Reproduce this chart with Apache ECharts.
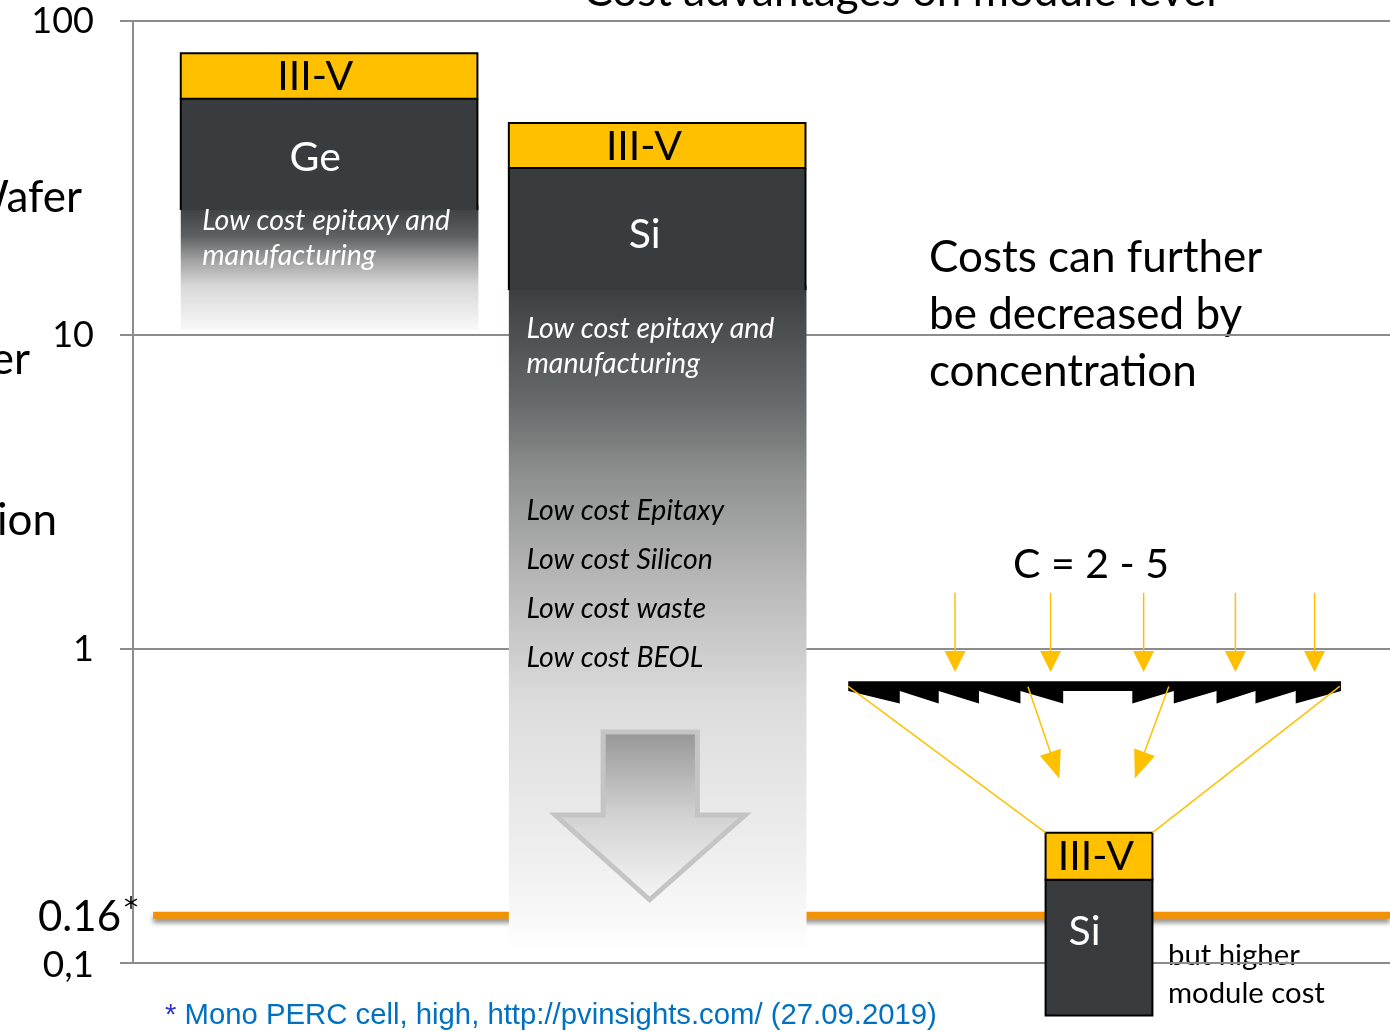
<!DOCTYPE html>
<html>
<head>
<meta charset="utf-8">
<script src="https://cdn.jsdelivr.net/npm/echarts@6/dist/echarts.min.js"></script>
<style>
  html, body { margin: 0; padding: 0; background: #fff; }
  #chart { width: 1390px; height: 1031px; }
</style>
</head>
<body>
<div id="chart"></div>
<script>
// stacks: III-V on Ge wafer, III-V on Si wafer, III-V on Si under concentration
const stackNames = ['Ge', 'Si', 'Si'];
const barLeft = [3.8, 29.9, 72.6];
const barRight = [27.4, 53.5, 81.1];
const iiiVTop = [79, 47.3, 0.26];
const iiiVBottom = [56.5, 34, 0.184];
const substrateBottom = [25, 13.9, 0.068];
const fadeBottom = [10.4, 0.114, null];
const iiiVLabelX = [14.5, 40.65, 76.6];
const substrateLabelX = [14.5, 40.7, 75.7];
const substrateLabelY = [36.6, 20.8, 0.1256];

// notes written into the fading part of the bars
const whiteNotes = [['Low cost epitaxy and', 'manufacturing'], ['Low cost epitaxy and', 'manufacturing']];
const whiteNoteX = [5.5, 31.3];
const whiteNoteY = [23.1, 10.5];
const blackNotes = ['Low cost Epitaxy', 'Low cost Silicon', 'Low cost waste', 'Low cost BEOL'];
const blackNoteX = 31.3;
const blackNoteY = 2.75;

// big grey arrow inside the Si bar
const downArrowX = [33.6, 37.4, 41.1, 44.9, 48.7]; // head left, shaft left, tip, shaft right, head right
const downArrowY = [0.544, 0.296, 0.159];           // shaft top, neck, tip

// reference level of mono PERC cell price
const pvPrice = 0.142;
const pvLabel = '0.16';
const pvLineStart = 1.6;

// fresnel lens and light rays
const lensX = [56.9, 96.1];
const lensY = [0.79, 0.735, 0.67]; // top, base, tooth tip
const teethLeft = [56.9, 61.0, 64.1, 67.3, 70.6, 74.0];
const teethRight = [79.5, 82.8, 86.2, 89.3, 92.5, 96.1];
const rayX = [65.4, 73.0, 80.4, 87.7, 94.0];
const rayY = [1.51, 0.845];
const focusFrom = [[71.2, 0.758], [82.4, 0.76]];
const focusTo = [[73.7, 0.386], [79.7, 0.387]];
const funnelFrom = [[56.9, 0.76], [96.0, 0.76]];

const yTicks = [0.1, 1, 10, 100];

const YELLOW = '#ffc000';
const DARK = '#383c3e';
const FONT = 'Lato';

const fadeStops = [
  [[0, '#3a3e40'], [0.25, '#5e6061'], [0.45, '#a3a3a3'], [0.65, '#d8d8d8'], [1, '#f8f8f8']],
  [[0, '#3a3e40'], [0.18, '#686a6b'], [0.29, '#8f9090'], [0.45, '#b8b8b8'], [0.63, '#dcdcdc'], [0.87, '#efefef'], [1, '#fdfdfd']]
];

function grad(stops) {
  return new echarts.graphic.LinearGradient(0, 0, 0, 1, stops.map(s => ({ offset: s[0], color: s[1] })));
}

function renderBar(params, api) {
  const i = params.dataIndex;
  const tl = api.coord([barLeft[i], iiiVTop[i]]);
  const mid = api.coord([barRight[i], iiiVBottom[i]]);
  const bot = api.coord([barRight[i], substrateBottom[i]]);
  const x = tl[0], w = mid[0] - tl[0];
  const kids = [];
  if (fadeBottom[i] != null) {
    const fb = api.coord([barRight[i], fadeBottom[i]]);
    kids.push({ type: 'rect', shape: { x: x, y: bot[1] - 5, width: w + 1, height: fb[1] - bot[1] + 5 },
      style: { fill: grad(fadeStops[i]) } });
    kids.push({ type: 'rect', shape: { x: x, y: mid[1], width: w, height: bot[1] - mid[1] }, style: { fill: DARK } });
    kids.push({ type: 'polyline', shape: { points: [[x, bot[1]], [x, mid[1]]] }, style: { stroke: '#000', lineWidth: 2 } });
    kids.push({ type: 'polyline', shape: { points: [[x + w, bot[1]], [x + w, mid[1]]] }, style: { stroke: '#000', lineWidth: 2 } });
  } else {
    kids.push({ type: 'rect', shape: { x: x, y: mid[1], width: w, height: bot[1] - mid[1] },
      style: { fill: DARK, stroke: '#000', lineWidth: 2 } });
  }
  kids.push({ type: 'rect', shape: { x: x, y: tl[1], width: w, height: mid[1] - tl[1] },
    style: { fill: YELLOW, stroke: '#000', lineWidth: 2 } });
  const tx = api.coord([iiiVLabelX[i], iiiVTop[i]])[0];
  kids.push({ type: 'text', x: tx, y: (tl[1] + mid[1]) / 2 + 1,
    style: { text: 'III-V', fill: '#000', font: '41px ' + FONT, align: 'center', verticalAlign: 'middle' } });
  const lp = api.coord([substrateLabelX[i], substrateLabelY[i]]);
  kids.push({ type: 'text', x: lp[0], y: lp[1],
    style: { text: stackNames[i], fill: '#fff', font: '41px ' + FONT, align: 'center', verticalAlign: 'middle' } });
  if (whiteNotes[i]) {
    const np = api.coord([whiteNoteX[i], whiteNoteY[i]]);
    kids.push({ type: 'text', x: np[0], y: np[1] - 17.5,
      style: { text: whiteNotes[i].join('\n'), fill: '#fff', font: 'italic 28.5px ' + FONT, lineHeight: 35, align: 'left', verticalAlign: 'top' } });
  }
  return { type: 'group', children: kids };
}

function renderNotes(params, api) {
  const p = api.coord([blackNoteX, blackNoteY]);
  const a = downArrowX.map(v => api.coord([v, downArrowY[0]])[0]);
  const ys = downArrowY.map(v => api.coord([downArrowX[2], v])[1]);
  return { type: 'group', children: [
    { type: 'text', x: p[0], y: p[1] - 24.5,
      style: { text: blackNotes.join('\n'), fill: '#000', font: 'italic 28.5px ' + FONT, lineHeight: 49, align: 'left', verticalAlign: 'top' } },
    { type: 'polygon', shape: { points: [[a[1], ys[0]], [a[3], ys[0]], [a[3], ys[1]], [a[4], ys[1]], [a[2], ys[2]], [a[0], ys[1]], [a[1], ys[1]]] },
      style: { fill: grad([[0, '#959595'], [0.5, '#d2d2d2'], [1, '#f6f6f6']]), stroke: '#c4c4c4', lineWidth: 5 } }
  ] };
}

function renderPv(params, api) {
  const s = api.coord([pvLineStart, pvPrice]);
  const e = api.coord([100, pvPrice]);
  const ax = api.coord([0, pvPrice])[0];
  return { type: 'group', children: [
    { type: 'line', shape: { x1: s[0], y1: s[1], x2: e[0], y2: s[1] },
      style: { stroke: '#f39200', lineWidth: 7, shadowColor: 'rgba(0,0,0,0.45)', shadowBlur: 5, shadowOffsetY: 4 } },
    { type: 'text', x: ax - 12, y: s[1] + 2,
      style: { text: pvLabel, fill: '#000', font: '42px ' + FONT, align: 'right', verticalAlign: 'middle' } },
    { type: 'text', x: ax - 9, y: s[1] - 5,
      style: { text: '*', fill: '#000', font: '28px "DejaVu Sans"', align: 'left', verticalAlign: 'middle' } }
  ] };
}

function arrowHead(tip, from, len, half) {
  const dx = tip[0] - from[0], dy = tip[1] - from[1];
  const d = Math.sqrt(dx * dx + dy * dy);
  const ux = dx / d, uy = dy / d;
  const bx = tip[0] - ux * len, by = tip[1] - uy * len;
  return { type: 'polygon', shape: { points: [[tip[0], tip[1]], [bx - uy * half, by + ux * half], [bx + uy * half, by - ux * half]] },
    style: { fill: YELLOW } };
}

function renderLens(params, api) {
  const c = (x, y) => api.coord([x, y]);
  const top = lensY[0], base = lensY[1], tip = lensY[2];
  const pts = [c(lensX[0], top), c(lensX[1], top), c(lensX[1], base)];
  for (let k = teethRight.length - 2; k >= 0; k--) {
    pts.push(c(teethRight[k], tip));
    pts.push(c(teethRight[k], base));
  }
  for (let k = teethLeft.length - 1; k >= 1; k--) {
    pts.push(c(teethLeft[k], base));
    pts.push(c(teethLeft[k], tip));
  }
  pts.push(c(teethLeft[0], base));
  const kids = [{ type: 'polygon', shape: { points: pts }, style: { fill: '#000' } }];
  rayX.forEach(x => {
    const a = c(x, rayY[0]), b = c(x, rayY[1]);
    kids.push({ type: 'line', shape: { x1: a[0], y1: a[1], x2: b[0], y2: b[1] - 15 }, style: { stroke: YELLOW, lineWidth: 1.5 } });
    kids.push(arrowHead(b, a, 21, 10.5));
  });
  focusFrom.forEach((f, k) => {
    const a = c(f[0], f[1]), b = c(focusTo[k][0], focusTo[k][1]);
    kids.push({ type: 'line', shape: { x1: a[0], y1: a[1], x2: a[0] + (b[0] - a[0]) * 0.8, y2: a[1] + (b[1] - a[1]) * 0.8 }, style: { stroke: YELLOW, lineWidth: 1.5 } });
    kids.push(arrowHead(b, a, 28, 11));
  });
  const corners = [[barLeft[2], iiiVTop[2]], [barRight[2], iiiVTop[2]]];
  funnelFrom.forEach((f, k) => {
    const a = c(f[0], f[1]), b = c(corners[k][0], corners[k][1]);
    kids.push({ type: 'line', shape: { x1: a[0], y1: a[1], x2: b[0], y2: b[1] }, style: { stroke: YELLOW, lineWidth: 1.5 } });
  });
  return { type: 'group', children: kids };
}

const chart = echarts.init(document.getElementById('chart'), null, { renderer: 'canvas' });

chart.setOption({
  animation: false,
  grid: { left: 133, right: 0, top: 21, bottom: 68 },
  xAxis: { type: 'value', min: 0, max: 100, show: false },
  yAxis: {
    type: 'log', logBase: 10, min: 0.1, max: 100,
    axisLine: { show: true, lineStyle: { color: '#8c8c8c', width: 2 } },
    axisTick: { show: true, length: 13, lineStyle: { color: '#8c8c8c', width: 2 } },
    splitLine: { show: true, lineStyle: { color: '#8c8c8c', width: 2 } },
    axisLabel: {
      margin: 39, color: '#000', fontFamily: FONT, fontSize: 36,
      formatter: v => v < 0.5 ? '{s|' + String(v).replace('.', ',') + '}' : String(v),
      rich: { s: { fontSize: 37, fontFamily: FONT, color: '#000', padding: [4, 0, 0, 0] } }
    }
  },
  graphic: [
    { type: 'text', position: [900, -8], style: { text: 'Cost advantages on module level', font: '44px ' + FONT, fill: '#000', align: 'center', verticalAlign: 'middle' } },
    { type: 'text', position: [82, 198], style: { text: 'Wafer', font: '44px ' + FONT, fill: '#000', align: 'right', verticalAlign: 'middle' } },
    { type: 'text', position: [30, 360], style: { text: 'per', font: '44px ' + FONT, fill: '#000', align: 'right', verticalAlign: 'middle' } },
    { type: 'text', position: [57, 521], style: { text: 'ion', font: '44px ' + FONT, fill: '#000', align: 'right', verticalAlign: 'middle' } },
    { type: 'text', position: [929, 229], style: { text: 'Costs can further\nbe decreased by\nconcentration', font: '44px ' + FONT, lineHeight: 57, fill: '#000', align: 'left', verticalAlign: 'top' } },
    { type: 'text', position: [1091, 565], style: { text: 'C = 2 - 5', font: '41px ' + FONT, fill: '#000', align: 'center', verticalAlign: 'middle' } },
    { type: 'text', position: [1168, 937], style: { text: 'but higher\nmodule cost', font: '29.3px ' + FONT, lineHeight: 38, fill: '#000', align: 'left', verticalAlign: 'top' } },
    { type: 'text', position: [165, 1016], style: { text: '{a|*} Mono PERC cell, high, http://pvinsights.com/ (27.09.2019)', font: '29.3px "Liberation Sans"', fill: '#0070c0', align: 'left', verticalAlign: 'middle',
      rich: { a: { fill: '#3333cc', font: '29.3px "Liberation Sans"' } } } }
  ],
  series: [
    { type: 'custom', z: 3, renderItem: renderPv, data: [[0]], silent: true },
    { type: 'custom', z: 4, renderItem: renderBar, data: barLeft.map((_, i) => [i]), silent: true },
    { type: 'custom', z: 5, renderItem: renderNotes, data: [[0]], silent: true },
    { type: 'custom', z: 5, renderItem: renderLens, data: [[0]], silent: true }
  ]
});
</script>
</body>
</html>
